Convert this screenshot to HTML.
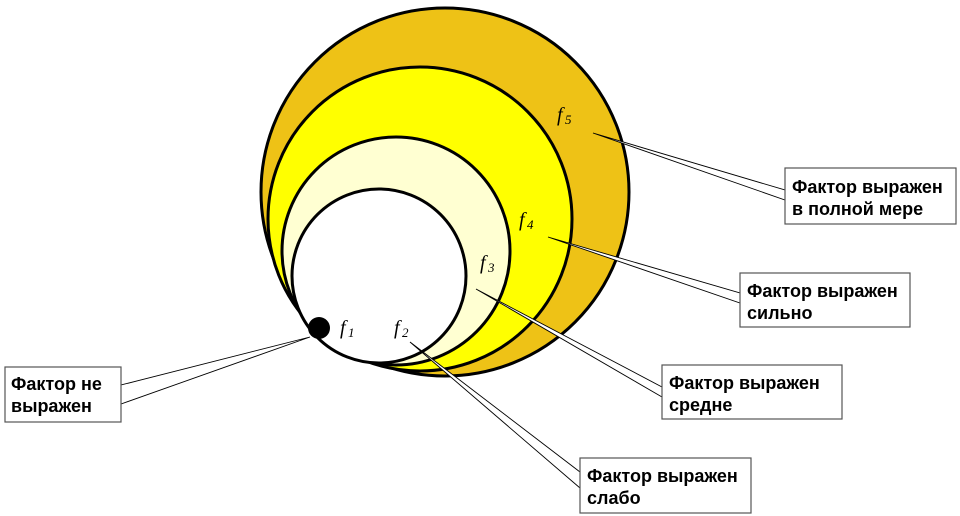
<!DOCTYPE html>
<html><head><meta charset="utf-8"><style>
html,body{margin:0;padding:0;background:#fff;}
svg{display:block;}
.b{font-family:"Liberation Sans",Arial,sans-serif;font-weight:bold;font-size:18px;fill:#000;}
.f{font-family:"Liberation Serif",serif;font-style:italic;font-size:20px;fill:#000;}
.s{font-family:"Liberation Serif",serif;font-style:italic;font-size:13px;fill:#000;}
</style></head><body>
<svg width="960" height="516" viewBox="0 0 960 516" xmlns="http://www.w3.org/2000/svg">
<g stroke="#000" stroke-width="3">
<circle cx="445" cy="192" r="184" fill="#EEC216"/>
<circle cx="420" cy="219" r="152" fill="#FFFF00"/>
<circle cx="396" cy="251" r="114" fill="#FFFFD2"/>
<circle cx="379" cy="276" r="87" fill="#FFFFFF"/>
</g>
<circle cx="319" cy="328" r="11" fill="#000"/>
<g fill="#fff" stroke="#000" stroke-width="0.9">
<polygon points="593,133 785,190 785,200"/>
<polygon points="548,237 740,293 740,303"/>
<polygon points="476,289 662,387 662,397"/>
<polygon points="410,342 580,472 580,488"/>
<polygon points="310,337 121,385 121,404"/>
</g>
<g fill="#fff" stroke="#555" stroke-width="1.2">
<rect x="785" y="168" width="171" height="56"/>
<rect x="740" y="273" width="170" height="54"/>
<rect x="662" y="365" width="180" height="54"/>
<rect x="580" y="458" width="171" height="55"/>
<rect x="5" y="367" width="116" height="55"/>
</g>
<text class="b" x="792" y="193">Фактор выражен</text>
<text class="b" x="792" y="215">в полной мере</text>
<text class="b" x="747" y="297">Фактор выражен</text>
<text class="b" x="747" y="319">сильно</text>
<text class="b" x="669" y="389">Фактор выражен</text>
<text class="b" x="669" y="411">средне</text>
<text class="b" x="587" y="482">Фактор выражен</text>
<text class="b" x="587" y="504">слабо</text>
<text class="b" x="11" y="390">Фактор не</text>
<text class="b" x="11" y="412">выражен</text>
<text class="f" x="557" y="121">f</text><text class="s" x="565" y="124">5</text>
<text class="f" x="519" y="226">f</text><text class="s" x="527" y="229">4</text>
<text class="f" x="480" y="269">f</text><text class="s" x="488" y="272">3</text>
<text class="f" x="340" y="334">f</text><text class="s" x="348" y="337">1</text>
<text class="f" x="394" y="334">f</text><text class="s" x="402" y="337">2</text>
</svg>
</body></html>
